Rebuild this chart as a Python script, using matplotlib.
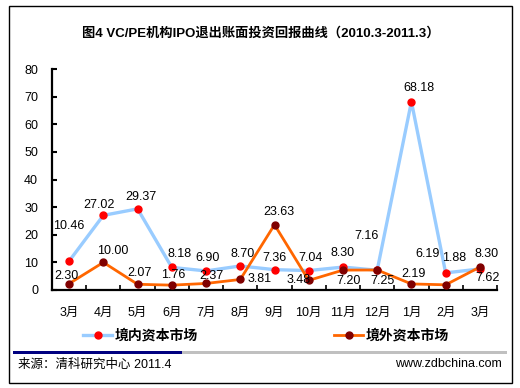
import matplotlib
matplotlib.use("Agg")
import matplotlib.pyplot as plt
from matplotlib.patches import Rectangle
from matplotlib.lines import Line2D

plt.rcParams['font.family'] = ['Liberation Sans', 'Noto Sans CJK SC', 'DejaVu Sans']

# data
months = ['3月', '4月', '5月', '6月', '7月', '8月', '9月', '10月', '11月', '12月', '1月', '2月', '3月']
domestic = [10.46, 27.02, 29.37, 8.18, 6.90, 8.70, 7.36, 7.04, 8.30, 7.16, 68.18, 6.19, 7.62]
overseas = [2.30, 10.00, 2.07, 1.76, 2.37, 3.81, 23.63, 3.48, 7.20, 7.25, 2.19, 1.88, 8.30]
yticks = [0, 10, 20, 30, 40, 50, 60, 70, 80]

# label offsets in pixels (manual placement as in the original)
dom_off = [(0, 35), (-4, 10), (3, 12), (8, 13), (2, 13), (2, 12), (0, 12),
           (2, 13), (0, 14), (-11, 34), (8, 14), (-18, 19), (8, -9)]
ovs_off = [(-3, 8), (9, 11), (2, 11), (1, 10), (5, 7), (19, 0), (4, 13),
           (-10, 0), (6, -11), (5, -11), (2, 10), (8, 27), (7, 13)]

W, H = 520, 388
fig = plt.figure(figsize=(W / 100, H / 100), dpi=100)
ax = fig.add_axes([52 / W, 1 - 290 / H, 445 / W, 221 / H])

x = list(range(len(months)))
l1, = ax.plot(x, domestic, color='#99CCFF', lw=2.4, marker='o', ms=5,
              mfc='#FF0000', mec='#FF0000', label='境内资本市场', zorder=3)
l2, = ax.plot(x, overseas, color='#FF6600', lw=2.0, marker='o', ms=5,
              mfc='#800000', mec='#800000', label='境外资本市场', zorder=4)

for i, v in enumerate(domestic):
    ax.annotate(f'{v:.2f}', (i, v), xytext=dom_off[i], textcoords='offset pixels',
                ha='center', va='center', fontsize=9, zorder=5)
for i, v in enumerate(overseas):
    ax.annotate(f'{v:.2f}', (i, v), xytext=ovs_off[i], textcoords='offset pixels',
                ha='center', va='center', fontsize=9, zorder=5)

ax.set_xlim(-0.5, len(months) - 0.5)
ax.set_ylim(0, 80)
ax.set_yticks(yticks)
ax.set_xticks(x)
ax.set_xticklabels(months, fontsize=9)
ax.set_xticks([i - 0.5 for i in range(len(months) + 1)], minor=True)
ax.tick_params(axis='x', which='major', length=0, pad=12)
ax.tick_params(axis='x', which='minor', direction='in', length=3.5, width=1.2)
ax.tick_params(axis='y', direction='in', length=3.5, width=1.5, pad=10, labelsize=9)
for s in ['top', 'right']:
    ax.spines[s].set_visible(False)
for s in ['left', 'bottom']:
    ax.spines[s].set_linewidth(1.6)
ax.set_clip_on(False)

fig.text(261 / W, 1 - 33 / H, '图4 VC/PE机构IPO退出账面投资回报曲线（2010.3-2011.3）',
         ha='center', va='center', fontsize=9.5, fontweight='bold')

leg_kw = dict(frameon=False, handlelength=2.1, handletextpad=0.2, borderpad=0,
              borderaxespad=0, prop={'size': 10, 'weight': 'bold'})
leg1 = fig.legend(handles=[l1], loc='center left', bbox_to_anchor=(83 / W, 1 - 336 / H), **leg_kw)
fig.legend(handles=[l2], loc='center left', bbox_to_anchor=(334 / W, 1 - 336 / H), **leg_kw)

fig.patches.append(Rectangle((13 / W, 1 - 354 / H), 169 / W, 3.5 / H, transform=fig.transFigure,
                             color='#000080', lw=0))
fig.patches.append(Rectangle((182 / W, 1 - 354 / H), 325 / W, 3.5 / H, transform=fig.transFigure,
                             color='#C0C0C0', lw=0))
fig.patches.append(Rectangle((8.5 / W, 1 - 382.5 / H), 503 / W, 377 / H, transform=fig.transFigure,
                             fill=False, ec='black', lw=1))

fig.text(18 / W, 1 - 365 / H, '来源：清科研究中心 2011.4', ha='left', va='center', fontsize=9)
fig.text(502 / W, 1 - 364 / H, 'www.zdbchina.com', ha='right', va='center', fontsize=9)

fig.savefig('out.png', dpi=100)
